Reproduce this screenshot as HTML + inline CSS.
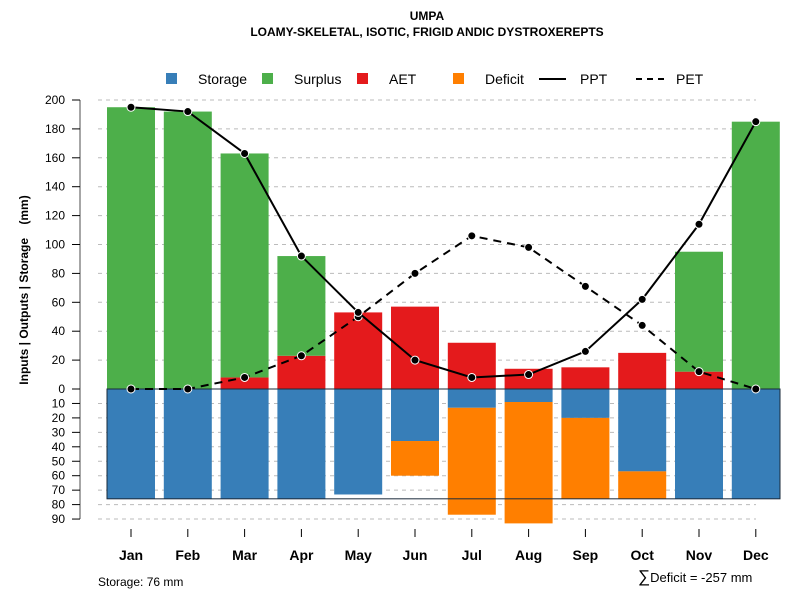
<!DOCTYPE html>
<html><head><meta charset="utf-8"><style>
body{margin:0;background:#fff}
svg{font-family:"Liberation Sans",sans-serif}
</style></head><body>
<svg id="c" width="800" height="600" xmlns="http://www.w3.org/2000/svg">
<text x="427" y="20" text-anchor="middle" font-size="12" font-weight="bold">UMPA</text>
<text x="427" y="36" text-anchor="middle" font-size="12" font-weight="bold">LOAMY-SKELETAL, ISOTIC, FRIGID ANDIC DYSTROXEREPTS</text>
<g id="legend" font-size="14">
<g><rect x="166" y="73" width="11" height="11" fill="#377eb8"/><text x="198" y="84">Storage</text></g>
<g><rect x="262" y="73" width="11" height="11" fill="#4daf4a"/><text x="294" y="84">Surplus</text></g>
<g><rect x="357" y="73" width="11" height="11" fill="#e41a1c"/><text x="389" y="84">AET</text></g>
<g><rect x="453" y="73" width="11" height="11" fill="#ff7f00"/><text x="485" y="84">Deficit</text></g>
<g><line x1="539" y1="79" x2="566" y2="79" stroke="#000" stroke-width="2"/><text x="580" y="84">PPT</text></g>
<g><line x1="636" y1="79" x2="664" y2="79" stroke="#000" stroke-width="2" stroke-dasharray="6,5"/><text x="676" y="84">PET</text></g>
</g>
<text transform="translate(28,290) rotate(-90)" text-anchor="middle" font-size="12" font-weight="bold" style="white-space:pre">Inputs | Outputs | Storage    (mm)</text>
<g id="grid"></g><g id="bars"></g><g id="lines"></g><g id="axes"></g>
<text x="98" y="586" font-size="12">Storage: 76 mm</text>
<text x="638" y="582" font-size="13"><tspan font-size="17">∑</tspan>Deficit = -257 mm</text>
</svg>
<script>
const months=["Jan","Feb","Mar","Apr","May","Jun","Jul","Aug","Sep","Oct","Nov","Dec"];
const ppt=[195,192,163,92,53,20,8,10,26,62,114,185];
const pet=[0,0,8,23,50,80,106,98,71,44,12,0];
const aet=[0,0,8,23,53,57,32,14,15,25,12,0];
const surplus=[195,192,155,69,0,0,0,0,0,0,83,185];
const storage=[76,76,76,76,73,36,13,9,20,57,76,76];
const deficit=[0,0,0,0,0,24,74,84,56,19,0,0];
const upTicks=[0,20,40,60,80,100,120,140,160,180,200];
const downTicks=[10,20,30,40,50,60,70,80,90];
const storageCap=76;
const NS="http://www.w3.org/2000/svg";
const y0=389,k=1.445;
const y=v=>y0-v*k;
const x=i=>131+i*56.8;
const bw=48;
function mk(tag,attrs,parent){const e=document.createElementNS(NS,tag);for(const a in attrs)e.setAttribute(a,attrs[a]);document.getElementById(parent).appendChild(e);return e;}
upTicks.forEach(t=>{if(t>0){const g=mk('line',{x1:98,x2:756,y1:y(t),y2:y(t),stroke:'#bbb','stroke-dasharray':'4,4'},'grid');

}});
downTicks.forEach(t=>{const g=mk('line',{x1:98,x2:756,y1:y(-t),y2:y(-t),stroke:'#bbb','stroke-dasharray':'4,4'},'grid');

});
months.forEach((m,i)=>{
 const l=x(i)-bw/2;
 if(aet[i]>0){const r=mk('rect',{x:l,y:y(aet[i]),width:bw,height:aet[i]*k,fill:'#e41a1c'},'bars');
 
 }
 if(surplus[i]>0){const r=mk('rect',{x:l,y:y(aet[i]+surplus[i]),width:bw,height:surplus[i]*k,fill:'#4daf4a'},'bars');
 
 }
 const s=mk('rect',{x:l,y:y0,width:bw,height:storage[i]*k,fill:'#377eb8'},'bars');
 
 
 if(deficit[i]>0){const r=mk('rect',{x:l,y:y(-storage[i]),width:bw,height:deficit[i]*k,fill:'#ff7f00'},'bars');
 
 }
});
const zl=mk('line',{x1:107,x2:780,y1:y0,y2:y0,stroke:'#000','stroke-width':1},'bars');


const sl=mk('rect',{x:107,y:y0,width:673,height:storageCap*k,fill:'none',stroke:'#1a2a3a','stroke-width':1},'bars');


function series(vals,name,dash){
 const p=mk('polyline',{points:vals.map((v,i)=>x(i)+','+y(v)).join(' '),fill:'none',stroke:'#000','stroke-width':2,'stroke-dasharray':dash},'lines');
 
 
 vals.forEach((v,i)=>{const c=mk('circle',{cx:x(i),cy:y(v),r:4,fill:'#000',stroke:'#fff','stroke-width':1},'lines');
 
 });
}
series(pet,'pet','8,6');
series(ppt,'ppt','none');
const ax=mk('line',{x1:80,x2:80,y1:y(200),y2:y(-90),stroke:'#888','stroke-width':1.5},'axes');


function tick(v,lab){
 const t=mk('line',{x1:72,x2:80,y1:y(v),y2:y(v),stroke:'#000'},'axes');
 
 
 const tx=mk('text',{x:65,y:y(v)+4,'text-anchor':'end','font-size':12},'axes');
 tx.textContent=lab;
 
 
}
upTicks.forEach(t=>tick(t,String(t)));
downTicks.forEach(t=>tick(-t,String(t)));
months.forEach((m,i)=>{
 const t=mk('line',{x1:x(i),x2:x(i),y1:529,y2:537,stroke:'#000'},'axes');
 
 
 const tx=mk('text',{x:x(i),y:560,'text-anchor':'middle','font-size':14,'font-weight':'bold'},'axes');
 tx.textContent=m;
 
 
});
</script>
</body></html>
